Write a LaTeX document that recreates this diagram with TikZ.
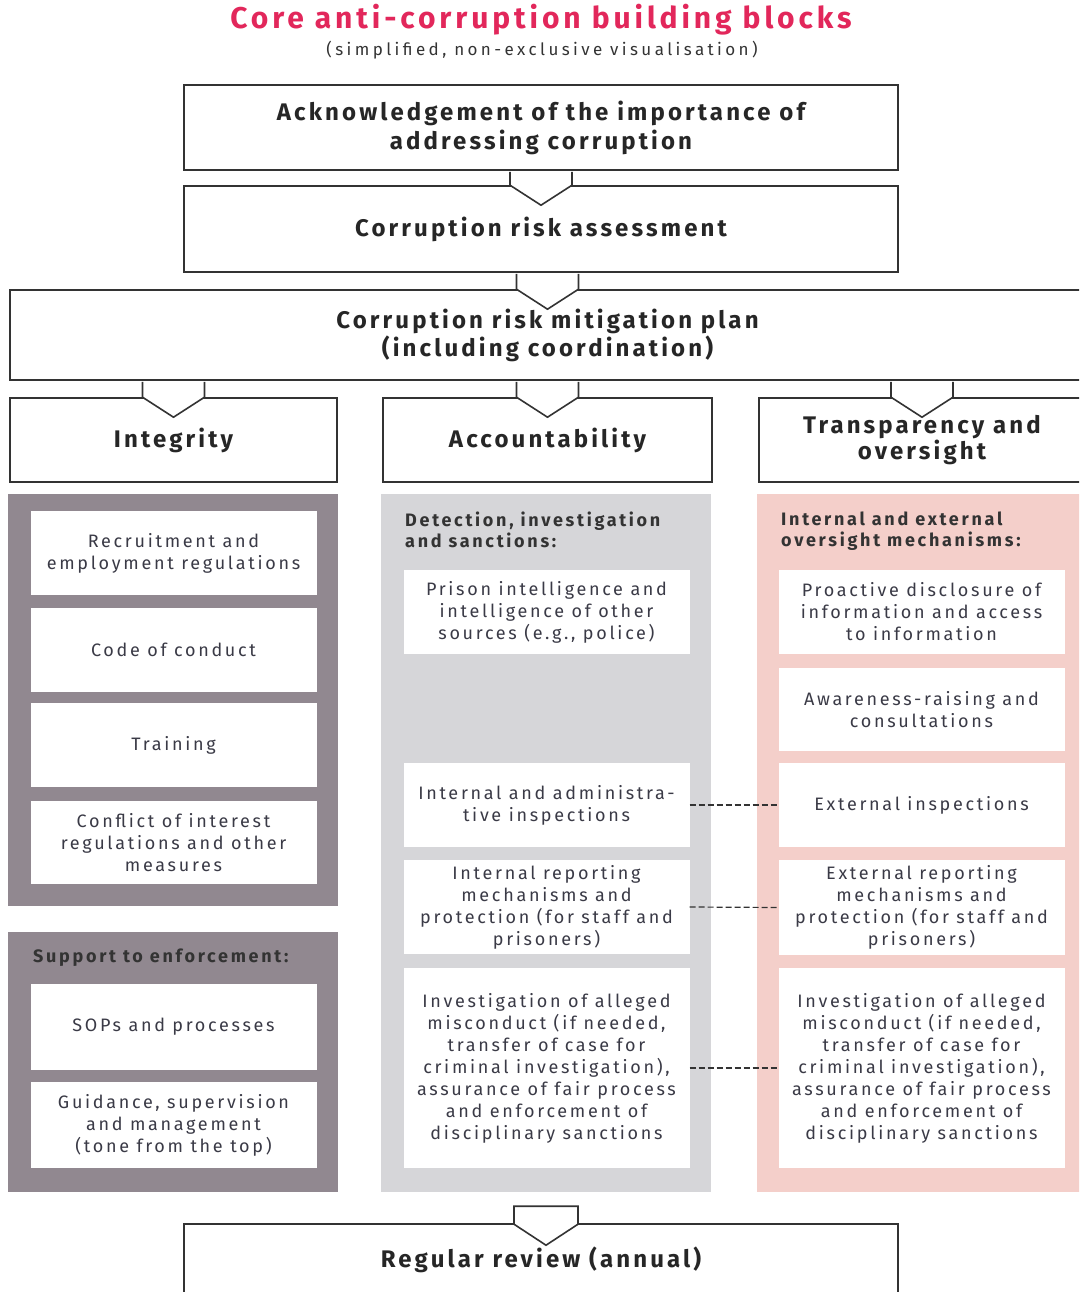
\documentclass[tikz,border=0pt]{standalone}
\usepackage{fontspec}
\setmainfont{Fira Sans}[LetterSpace=15]
\newfontfamily\headfont{Fira Sans}[LetterSpace=13]
\newfontfamily\subfont{Fira Sans}[LetterSpace=20]
\usetikzlibrary{calc}

\definecolor{titlered}{HTML}{E2275B}
\definecolor{inkgray}{HTML}{3A3A46}
\definecolor{integfill}{HTML}{918890}
\definecolor{accfill}{HTML}{D6D6D9}
\definecolor{transpfill}{HTML}{F4CFCA}

\tikzset{
  head/.style={draw=black!80, line width=1.6pt, fill=white, inner sep=0pt,
    align=center, text=black!85, font=\headfont\fontsize{24}{29}\selectfont\bfseries},
  panel/.style={inner sep=0pt, minimum width=330, draw=none},
  item/.style={fill=white, inner sep=0pt, minimum width=286, align=center,
    text=inkgray, font=\fontsize{18}{22}\selectfont},
  paneltitle/.style={anchor=north west, inner sep=0pt, align=left,
    text=black!80, font=\fontsize{18}{21}\selectfont\bfseries},
  tab/.style={draw=black!80, line width=1.6pt, fill=white, line join=miter},
  link/.style={draw=black!80, line width=1.2pt, dash pattern=on 6pt off 3pt}
}

\begin{document}
\begin{tikzpicture}[x=1pt, y=-1pt]
  \useasboundingbox (0,0) rectangle (1079,1292);
  \clip (0,0) rectangle (1079,1292);

  % Title
  \node[text=titlered, font=\headfont\fontsize{30}{32}\selectfont\bfseries] (title) at (541,20) {Core anti-corruption building blocks};
  \node[text=black!80, font=\subfont\fontsize{17}{19}\selectfont] (subtitle) at (542,50) {(simplified, non-exclusive visualisation)};

  % Steps
  \node[head, minimum width=714, minimum height=85] (ack) at (541,127.5) {Acknowledgement of the importance of\\addressing corruption};
  \node[head, minimum width=714, minimum height=86] (risk) at (541,229) {Corruption risk assessment};
  \node[head, minimum width=1075, minimum height=90, font=\headfont\fontsize{24}{28}\selectfont\bfseries] (plan) at (547.5,335) {Corruption risk mitigation plan\\(including coordination)};
  \node[head, minimum width=327, minimum height=84] (integ) at (173.5,440) {Integrity};
  \node[head, minimum width=329, minimum height=84] (acc) at (547.5,440) {Accountability};
  \node[head, minimum width=326, minimum height=84, font=\headfont\fontsize{24}{24}\selectfont\bfseries] (transp) at (922,440) {Transparency and\\oversight};

  % Chevrons
  \foreach \u/\l in {ack/risk, risk/plan, plan/integ, plan/acc, plan/transp} {
    \draw[tab] ($(\u.south -| \l.north)+(-31,1)$) -- ($(\l.north)+(-31,0)$)
      -- ($(\l.north)+(0,20)$) -- ($(\l.north)+(31,0)$) -- ($(\u.south -| \l.north)+(31,1)$);
  };

  % Panels
  \node[panel, fill=integfill, minimum height=412] (integpanel) at (173,700) {};
  \node[panel, fill=integfill, minimum height=260] (supppanel) at (173,1062) {};
  \node[panel, fill=accfill, minimum height=698] (accpanel) at (546,843) {};
  \node[panel, fill=transpfill, minimum width=328, minimum height=698] (transppanel) at (921,843) {};

  % Integrity
  \node[item, minimum height=84] (recruit) at (173.5,553) {Recruitment and\\employment regulations};
  \node[item, minimum height=84] (code) at (173.5,650) {Code of conduct};
  \node[item, minimum height=84] (train) at (173.5,745) {Training};
  \node[item, minimum height=83] (coi) at (173.5,842.5) {Conflict of interest\\regulations and other\\measures};

  \node[paneltitle] (supptitle) at (33,949) {Support to enforcement:};
  \node[item, minimum height=86] (sops) at (173.5,1026.5) {SOPs and processes};
  \node[item, minimum height=86] (guide) at (173.5,1125) {Guidance, supervision\\and management\\(tone from the top)};

  % Accountability
  \node[paneltitle] (acctitle) at (405,512) {Detection, investigation\\and sanctions:};
  \node[item, minimum height=84] (intel) at (546.5,612) {Prison intelligence and\\intelligence of other\\sources (e.g., police)};
  \node[item, minimum height=84] (insp) at (546.5,805) {Internal and administra-\\tive inspections};
  \node[item, minimum height=94] (rep) at (546.5,907) {Internal reporting\\mechanisms and\\protection (for staff and\\prisoners)};
  \node[item, minimum height=200] (inv) at (546.5,1068) {Investigation of alleged\\misconduct (if needed,\\transfer of case for\\criminal investigation),\\assurance of fair process\\and enforcement of\\disciplinary sanctions};

  % Transparency
  \node[paneltitle] (transptitle) at (781,512) {Internal and external\\oversight mechanisms:};
  \node[item, minimum height=84] (disc) at (921.5,612) {Proactive disclosure of\\information and access\\to information};
  \node[item, minimum height=83] (aware) at (921.5,709.5) {Awareness-raising and\\consultations};
  \node[item, minimum height=84] (ext) at (921.5,805) {External inspections};
  \node[item, minimum height=95] (exrep) at (921.5,907.5) {External reporting\\mechanisms and\\protection (for staff and\\prisoners)};
  \node[item, minimum height=200] (exinv) at (921.5,1068) {Investigation of alleged\\misconduct (if needed,\\transfer of case for\\criminal investigation),\\assurance of fair process\\and enforcement of\\disciplinary sanctions};

  \foreach \a/\b in {insp/ext, rep/exrep, inv/exinv}
    \draw[link] (\a.east) -- (\b.west);

  % Review
  \node[head, minimum width=714, minimum height=72] (review) at (541,1260) {Regular review (annual)};
  \draw[tab] ($(accpanel.south)+(-32,14)$) -- ($(accpanel.south)+(32,14)$) -- ($(accpanel.south)+(32,32)$)
    -- ($(accpanel.south)+(0,53)$) -- ($(accpanel.south)+(-32,32)$) -- cycle;
\end{tikzpicture}
\end{document}
